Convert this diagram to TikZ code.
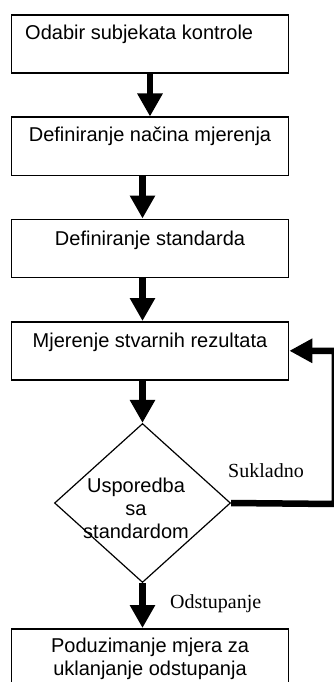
\documentclass[tikz,border=0pt]{standalone}
\usepackage{fontspec}
\setmainfont{Liberation Sans}
\newfontfamily\tms{Liberation Serif}
\usetikzlibrary{arrows.meta,shapes.geometric}
\begin{document}
\begin{tikzpicture}[x=1pt,y=-1pt,
  box/.style={draw, line width=1.6pt, minimum width=277pt, minimum height=58pt, inner sep=0pt, anchor=north},
  txt/.style={font=\fontsize{20}{22.5}\selectfont, inner sep=0pt},
  fat/.style={line width=6.5pt, -{Triangle[length=23pt,width=24pt]}},
  lbl/.style={font=\tms\fontsize{20}{22}\selectfont, inner sep=0pt, anchor=base west}]
\useasboundingbox (0,0) rectangle (334,682);
\node[box] (b1) at (150,14.5) {};
\node[box] (b2) at (150,116.5) {};
\node[box] (b3) at (150,218.5) {};
\node[box] (b4) at (150,321) {};
\node[box] (b5) at (150,628) {};
\node[draw, diamond, line width=1.2pt, minimum width=176pt, minimum height=159pt, inner sep=0pt] (dd) at (142.5,503) {};
\node[txt, anchor=base west] (t1) at (25,40) {Odabir subjekata kontrole};
\node[txt, anchor=base] (t2) at (150,142) {Definiranje načina mjerenja};
\node[txt, anchor=base] (t3) at (150,245) {Definiranje standarda};
\node[txt, anchor=base] (t4) at (150,347) {Mjerenje stvarnih rezultata};
\node[txt, align=center, anchor=base, font=\fontsize{20}{23}\selectfont] (td) at (136,538) {Usporedba\\sa\\standardom};
\node[txt, align=center, anchor=base] (t5) at (150,675) {Poduzimanje mjera za\\uklanjanje odstupanja};
\node[lbl] (s) at (228,477) {Sukladno};
\node[lbl] (o) at (170,608) {Odstupanje};
\coordinate (fb) at (334.8,504);
\draw[fat] (b1.south) -- (b2.north);
\draw[fat] (b2.south -| dd.north) -- (b3.north -| dd.north);
\draw[fat] (b3.south -| dd.north) -- (b4.north -| dd.north);
\draw[fat] (b4.south -| dd.north) -- (dd.north);
\draw[fat] (dd.south) -- (b5.north -| dd.south);
\draw[line width=6.5pt, -{Triangle[length=23pt,width=23pt]}] (dd.east) -- (fb) |- (b4.east);
\end{tikzpicture}
\end{document}
